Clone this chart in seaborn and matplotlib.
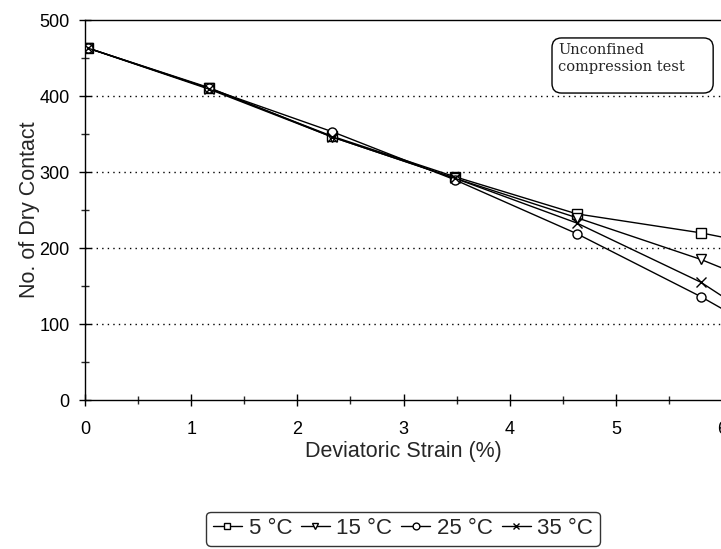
import numpy as np
import pandas as pd
import matplotlib.pyplot as plt
import seaborn as sns
from matplotlib.patches import FancyBboxPatch

# strain values (%) - last point lies past the right edge (x > 6)
strain = [0.03, 1.17, 2.33, 3.48, 4.63, 5.80, 6.95]
labels = ['5 °C', '15 °C', '25 °C', '35 °C']
c5 = [463, 410, 347, 294, 245, 220, 188]
c15 = [463, 411, 346, 292, 240, 185, 120]
c25 = [463, 410, 353, 290, 219, 136, 45]
c35 = [463, 409, 346, 292, 233, 155, 50]
markers = ['s', 'v', 'o', 'x']

df = pd.DataFrame({'strain': strain * 4,
                   'contact': c5 + c15 + c25 + c35,
                   'temp': np.repeat(labels, len(strain))})

sns.set_style('ticks')
plt.rcParams['font.family'] = ['Liberation Sans', 'DejaVu Sans']

fig = plt.figure(figsize=(7.21, 5.49), dpi=100)
ax = fig.add_axes([0.118, 0.2714, 0.8835, 0.692])

for lab, m in zip(labels, markers):
    sns.lineplot(data=df[df['temp'] == lab], x='strain', y='contact', ax=ax,
                 color='black', lw=1, marker=m, markersize=6.5,
                 markerfacecolor='white', markeredgecolor='black',
                 markeredgewidth=1, label=lab)

ax.set_xlim(0, 6)
ax.set_ylim(0, 500)
ax.set_xticks(range(0, 7))
ax.set_xticks(np.arange(0, 6.01, 0.5), minor=True)
ax.set_yticks(range(0, 501, 100))
ax.set_yticks(range(0, 501, 50), minor=True)
ax.tick_params(axis='x', direction='inout', length=8, width=1, labelsize=13,
               colors='black', pad=11)
ax.tick_params(axis='y', direction='inout', length=8, width=1, labelsize=13,
               colors='black', pad=7)
ax.tick_params(which='minor', direction='inout', length=6, width=1)
for y in [100, 200, 300, 400]:
    ax.axhline(y, color='black', ls=(0, (1, 3)), lw=1)
for s in ax.spines.values():
    s.set_color('black')
    s.set_linewidth(1)
ax.spines['right'].set_visible(False)

ax.set_xlabel('Deviatoric Strain (%)', fontsize=15.5, labelpad=2)
ax.set_ylabel('No. of Dry Contact', fontsize=15.5, labelpad=0)

# note box (rounded, wider than its text like in the original)
box = FancyBboxPatch((0.733, 0.808), 0.253, 0.145, transform=ax.transAxes,
                     boxstyle='round,pad=0,rounding_size=0.015',
                     mutation_aspect=637 / 380, fc='white', ec='black', lw=1,
                     zorder=5)
ax.add_patch(box)
ax.text(0.743, 0.94, 'Unconfined\ncompression test', transform=ax.transAxes,
        family='DejaVu Serif', fontsize=10.5, va='top', ha='left',
        linespacing=1.3, zorder=6)

ax.legend_.remove()
h, l = ax.get_legend_handles_labels()
leg = fig.legend(h, l, ncol=4, loc='center', bbox_to_anchor=(0.559, 0.037),
                 frameon=True, fancybox=True, edgecolor='black', fontsize=16,
                 handlelength=1.3, handletextpad=0.3, columnspacing=0.4,
                 borderpad=0.3, markerscale=0.75)
leg.get_frame().set_linewidth(1)

fig.savefig('out.png', dpi=100)
